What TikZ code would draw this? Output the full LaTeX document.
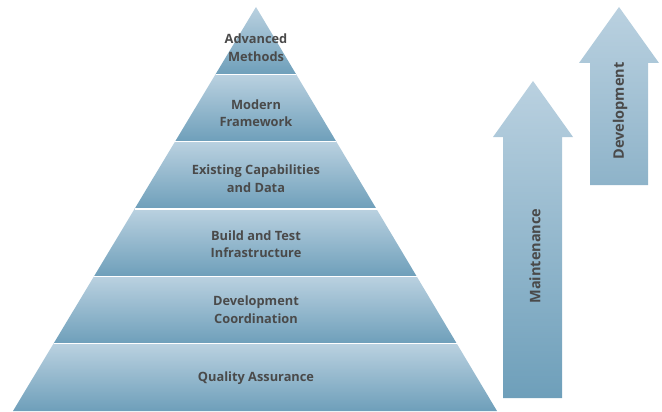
\documentclass[tikz,border=0pt]{standalone}
\usepackage{fontspec}
\setmainfont{Open Sans}
\usetikzlibrary{calc}

\definecolor{pyrLight}{HTML}{BAD1E0}
\definecolor{pyrDark}{HTML}{6E9FBA}
\definecolor{devDark}{HTML}{8EB3C9}
\definecolor{txtGray}{HTML}{4A4A4A}

\tikzset{
  band/.style={top color=pyrLight, bottom color=pyrDark},
  lbl/.style={font=\bfseries\fontsize{12.8}{17.5}\selectfont, text=txtGray, align=center, inner sep=0pt},
  arrlbl/.style={font=\bfseries\fontsize{14.5}{17}\selectfont, text=txtGray, inner sep=0pt, rotate=90},
}

\begin{document}
\begin{tikzpicture}[x=1pt,y=-1pt]
    \useasboundingbox (0,0) rectangle (662,412);

    % pyramid
    \coordinate (T) at (256,7);
    \coordinate (L) at (13,411);
    \coordinate (R) at (497,411);
    \foreach \i in {0,...,5} {
        \pgfmathsetmacro\fa{\i/6}
        \pgfmathsetmacro\fb{(\i+1)/6}
        \shade[band] ($(T)!\fa!(L)$) -- ($(T)!\fb!(L)$)
            -- ($(T)!\fb!(R)$) -- ($(T)!\fa!(R)$) -- cycle;
    }
    \foreach \i in {1,...,5} {
        \draw[white, line width=1.6pt] ($(T)!\i/6!(L)$) -- ($(T)!\i/6!(R)$);}

    % arrows
    \shade[top color=pyrLight, bottom color=pyrDark]
        (503,398) -- (503,137) -- (493,137) -- (533,81)
        -- (573,137) -- (562,137) -- (562,398) -- cycle;
    \shade[top color=pyrLight, bottom color=devDark]
        (590,185) -- (590,63) -- (579,63) -- (619,7)
        -- (659,63) -- (648,63) -- (648,185) -- cycle;

    % labels
    \foreach \n/\y/\t in {adv/47.5/{Advanced\\Methods},
                          modern/113/{Modern\\Framework},
                          exist/178.5/{Existing Capabilities\\and Data},
                          build/244/{Build and Test\\Infrastructure},
                          coord/309.5/{Development\\Coordination},
                          qa/378.5/{Quality Assurance}} {
        \node[lbl] (\n) at (256,\y) {\t};}

    \node[arrlbl] (maint) at (535,256) {Maintenance};
    \node[arrlbl] (dev) at (620,111) {Development};

\end{tikzpicture}
\end{document}
